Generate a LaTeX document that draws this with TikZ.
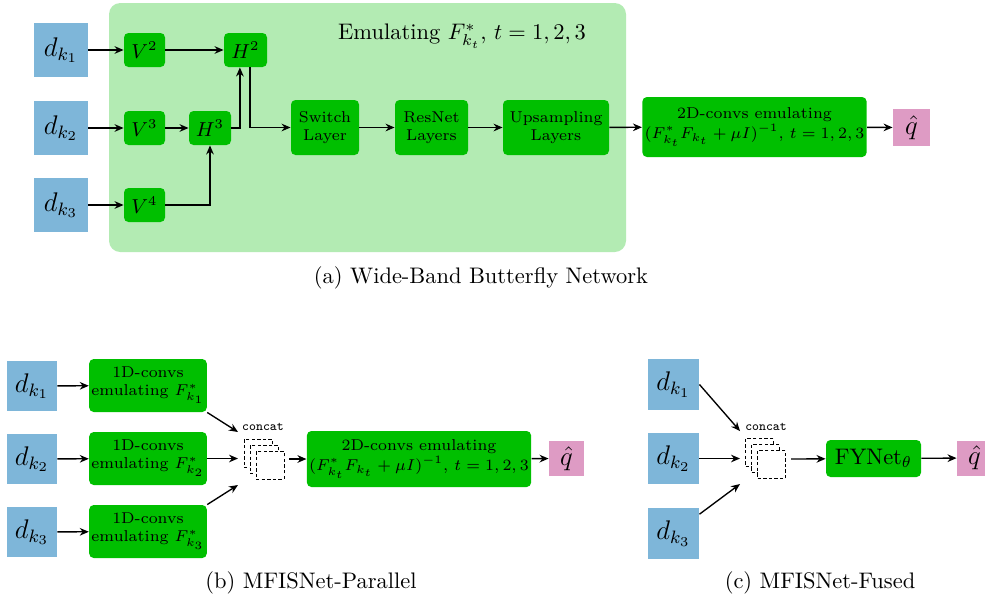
\documentclass[tikz,border=0pt]{standalone}
\usepackage{xcolor}
\usetikzlibrary{arrows.meta}
\definecolor{inblue}{HTML}{7EB6D9}
\definecolor{boxgreen}{HTML}{00BF00}
\definecolor{bggreen}{HTML}{B3EBB3}
\definecolor{outpink}{HTML}{DE9BC4}
\newcommand{\px}{0.445pt}

\begin{document}
\begin{tikzpicture}[
    x=\px, y=-\px,
    inbox/.style={fill=inblue, minimum size=54*\px, inner sep=0pt, font=\large},
    layer/.style={fill=boxgreen, rounded corners=2pt, inner sep=1pt, align=center, font=\scriptsize},
    outbox/.style={fill=outpink, minimum size=37*\px, inner sep=0pt, font=\large},
    sheet/.style={draw, dash pattern=on 1.5pt off 1pt, fill=white, minimum size=28*\px, inner sep=0pt, line width=0.4pt},
    arrow/.style={-{Stealth[length=4pt, width=3.4pt]}, semithick},
    catlabel/.style={font=\ttfamily\fontsize{5.8}{7}\selectfont, inner sep=0pt}
  ]
    \useasboundingbox (0,0) rectangle (985,603);

    % (a) wide-band butterfly
    \fill[bggreen, rounded corners=5pt] (109,3) rectangle (626,252);
    \node (title) at (462,36) {Emulating $F^*_{k_t}$, $t=1,2,3$};

    \node[inbox] (a1) at (61,50) {$d_{k_1}$};
    \node[inbox] (a2) at (61,128) {$d_{k_2}$};
    \node[inbox] (a3) at (61,205) {$d_{k_3}$};

    \node[layer, font=\small, minimum width=41*\px, minimum height=34*\px] (v2) at (144.5,50) {$V^2$};
    \node[layer, font=\small, minimum width=41*\px, minimum height=34*\px] (v3) at (144.5,128) {$V^3$};
    \node[layer, font=\small, minimum width=41*\px, minimum height=34*\px] (v4) at (144.5,205) {$V^4$};
    \node[layer, font=\small, minimum width=43*\px, minimum height=34*\px] (h2) at (245.5,50) {$H^2$};
    \node[layer, font=\small, minimum width=42*\px, minimum height=34*\px] (h3) at (210,128) {$H^3$};

    \node[layer, minimum width=68*\px, minimum height=55*\px] (switch) at (325,127.5) {Switch\\Layer};
    \node[layer, minimum width=73*\px, minimum height=55*\px] (resnet) at (431.5,127.5) {ResNet\\Layers};
    \node[layer, minimum width=106*\px, minimum height=55*\px] (upsamp) at (556,127.5) {Upsampling\\Layers};
    \node[layer, minimum width=217*\px, minimum height=60*\px] (conva) at (754.5,127) {2D-convs emulating\\[1pt]$(F^*_{k_t}F_{k_t}+\mu I)^{-1}$, $t=1,2,3$};
    \node[outbox] (qa) at (911.5,127.5) {$\hat{q}$};

    \draw[arrow] (a1) -- (v2);
    \draw[arrow] (a2) -- (v3);
    \draw[arrow] (a3) -- (v4);
    \draw[arrow] (v2) -- (h2);
    \draw[arrow] (v3) -- (h3);
    \draw[arrow] (v4) -| (h3);
    \draw[arrow] (h3) -| ([xshift=-2.5pt]h2.south);
    \draw[arrow] ([xshift=2pt]h2.south) |- (switch);
    \draw[arrow] (switch) -- (resnet);
    \draw[arrow] (resnet) -- (upsamp);
    \draw[arrow] (upsamp) -- (conva);
    \draw[arrow] (conva) -- (qa);

    \node (capa) at (481,278) {(a) Wide-Band Butterfly Network};

    % (b) parallel
    \node[inbox, minimum size=50*\px] (b1) at (32,386) {$d_{k_1}$};
    \node[inbox, minimum size=50*\px] (b2) at (32,459) {$d_{k_2}$};
    \node[inbox, minimum size=50*\px] (b3) at (32,532) {$d_{k_3}$};

    \node[layer, minimum width=114*\px, minimum height=53*\px] (f1) at (148,385.5) {1D-convs\\emulating $F^*_{k_1}$};
    \node[layer, minimum width=114*\px, minimum height=53*\px] (f2) at (148,458.5) {1D-convs\\emulating $F^*_{k_2}$};
    \node[layer, minimum width=114*\px, minimum height=53*\px] (f3) at (148,531.5) {1D-convs\\emulating $F^*_{k_3}$};

    \node[sheet] (cb1) at (258,453) {};
    \node[sheet] (cb2) at (264,459) {};
    \node[sheet] (cb3) at (270,465) {};
    \node[catlabel] (catb) at (263,427) {concat};
    \coordinate (bin1) at (238,432);
    \coordinate (bin2) at (238,458.5);
    \coordinate (bin3) at (238,485);
    \coordinate (bout) at (289,459);

    \node[layer, minimum width=204*\px, minimum height=56*\px] (convb) at (419,459) {2D-convs emulating\\[1pt]$(F^*_{k_t}F_{k_t}+\mu I)^{-1}$, $t=1,2,3$};
    \node[outbox, minimum size=35*\px] (qb) at (566.5,458.5) {$\hat{q}$};

    \draw[arrow] (b1) -- (f1);
    \draw[arrow] (b2) -- (f2);
    \draw[arrow] (b3) -- (f3);
    \draw[arrow] (f1.south east) -- (bin1);
    \draw[arrow] (f2) -- (bin2);
    \draw[arrow] (f3.north east) -- (bin3);
    \draw[arrow] (bout) -- (convb);
    \draw[arrow] (convb) -- (qb);

    \node (capb) at (311,583) {(b) MFISNet-Parallel};

    % (c) fused
    \node[inbox, minimum size=51*\px] (c1) at (673.5,384.5) {$d_{k_1}$};
    \node[inbox, minimum size=51*\px] (c2) at (673.5,458.5) {$d_{k_2}$};
    \node[inbox, minimum size=51*\px] (c3) at (673.5,533.5) {$d_{k_3}$};

    \node[sheet] (cc1) at (759.5,452.5) {};
    \node[sheet] (cc2) at (765.5,458.5) {};
    \node[sheet] (cc3) at (771.5,464.5) {};
    \node[catlabel] (catc) at (766,427) {concat};
    \coordinate (cin1) at (740,431);
    \coordinate (cin2) at (740,458.5);
    \coordinate (cin3) at (740,484);
    \coordinate (cout) at (791,459);

    \node[layer, font=\normalsize, minimum width=95*\px, minimum height=37*\px] (fynet) at (873.5,458.5) {FYNet$_\theta$};
    \node[outbox, minimum size=35*\px] (qc) at (974.5,458) {$\hat{q}$};

    \draw[arrow] (c1.east) -- (cin1);
    \draw[arrow] (c2) -- (cin2);
    \draw[arrow] (c3) -- (cin3);
    \draw[arrow] (cout) -- (fynet);
    \draw[arrow] (fynet) -- (qc);

    \node (capc) at (820,583) {(c) MFISNet-Fused};

  \end{tikzpicture}
\end{document}
